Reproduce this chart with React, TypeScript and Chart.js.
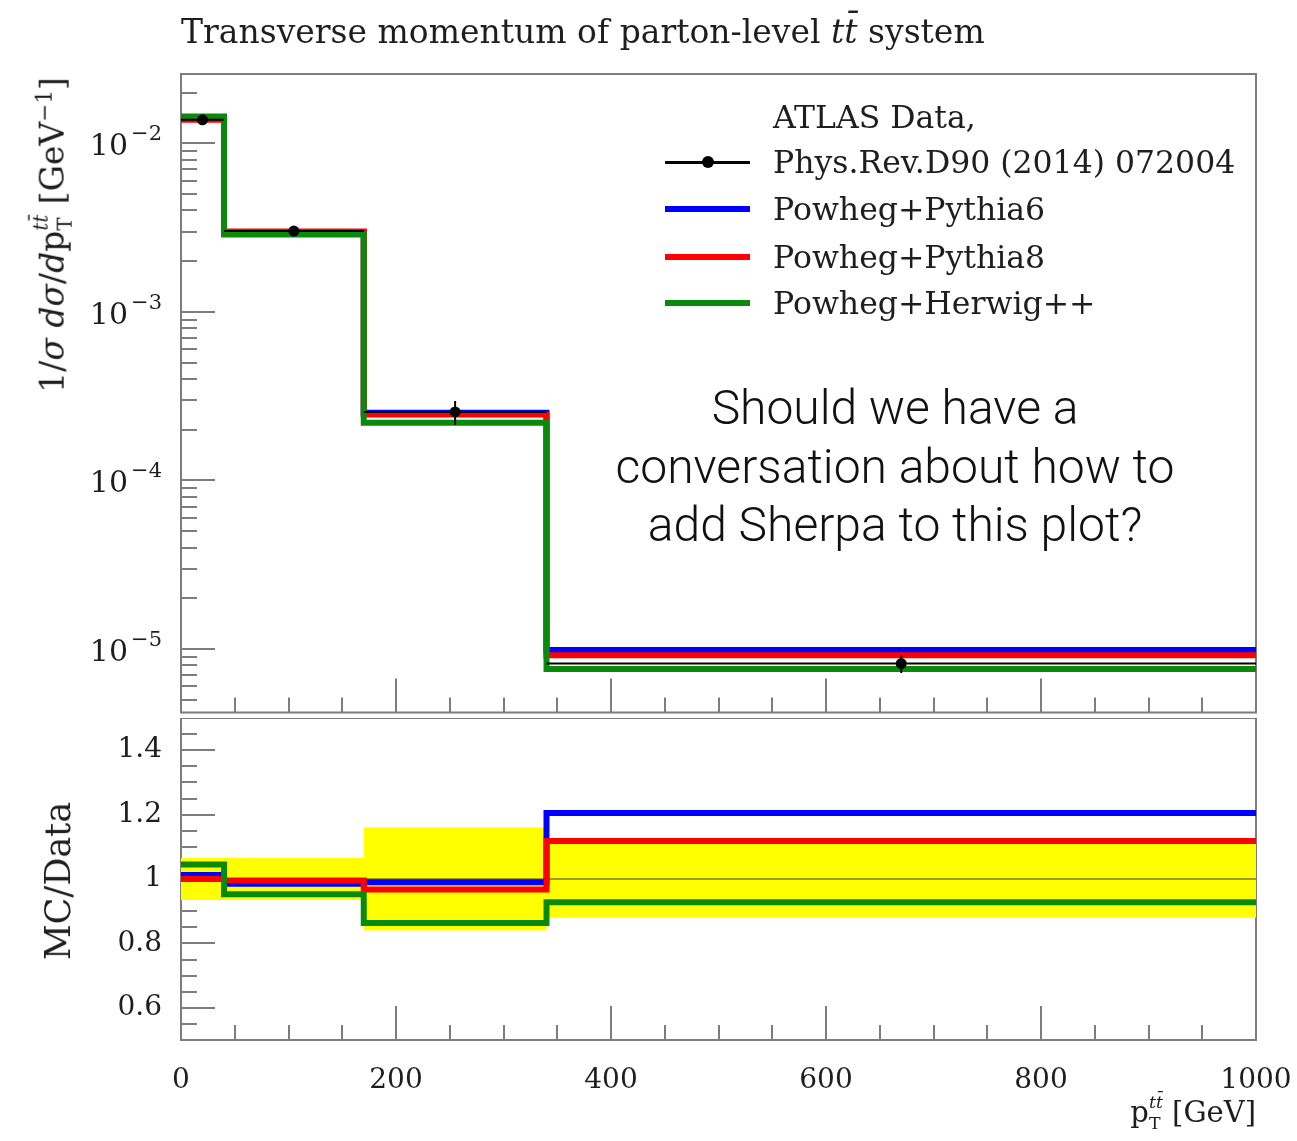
import React, { useEffect, useRef } from "react";
import { Chart, registerables } from "chart.js";

Chart.register(...registerables);

// Histogram binning in pT(ttbar) [GeV]
const binEdges = [0, 40, 170, 340, 1000];
const binCentres = [20, 105, 255, 670];

// Normalised cross-section 1/sigma dsigma/dpT [GeV^-1]
const dataValues = [0.0138, 0.00302, 2.55e-4, 8.2e-6];
const dataRelErr = [0.065, 0.065, 0.16, 0.12];
const pythia6Values = [0.01397, 0.002975, 2.525e-4, 9.88e-6];
const pythia8Values = [0.0138, 0.003005, 2.466e-4, 9.17e-6];
const herwigValues = [0.01442, 0.002878, 2.201e-4, 7.61e-6];

const seriesNames = ["Powheg+Pythia6", "Powheg+Pythia8", "Powheg+Herwig++"];
const seriesColors = ["#0000ff", "#ff0000", "#0a8a0a"];
const seriesValues = [pythia6Values, pythia8Values, herwigValues];
const seriesOrder = [4, 3, 2];

const dataLegend = ["ATLAS Data,", "Phys.Rev.D90 (2014) 072004"];
const logTickExponents = [-2, -3, -4, -5];
const ratioTickLabels = [0.6, 0.8, 1, 1.2, 1.4];
const xTickLabels = [0, 200, 400, 600, 800, 1000];

const SERIF = '"DejaVu Serif", serif';
const TEXT = "#1e1e1e";
const FRAME = "#7d7d7d";

type Pt = { x: number; y: number | null };

// Histogram outline: one point per lower bin edge plus a closing point
const stepPoints = (vals: number[]): Pt[] => [
  ...vals.map((v, i) => ({ x: binEdges[i], y: v })),
  { x: binEdges[binEdges.length - 1], y: vals[vals.length - 1] },
];

const ratioOf = (vals: number[]) => vals.map((v, i) => v / dataValues[i]);

// Horizontal (bin-width) and vertical (uncertainty) error bars of the data
const xErrPoints = (): Pt[] =>
  dataValues.flatMap((d, i) => [
    { x: binEdges[i], y: d },
    { x: binEdges[i + 1], y: d },
    { x: binEdges[i + 1], y: null },
  ]);
const yErrPoints = (): Pt[] =>
  dataValues.flatMap((d, i) => [
    { x: binCentres[i], y: d * (1 - dataRelErr[i]) },
    { x: binCentres[i], y: d * (1 + dataRelErr[i]) },
    { x: binCentres[i], y: null },
  ]);

const histLine = (label: string, color: string, data: Pt[], order: number) => ({
  type: "line" as const,
  label,
  data,
  stepped: "before" as const,
  borderColor: color,
  borderWidth: 6,
  borderJoinStyle: "miter" as const,
  pointRadius: 0,
  fill: false,
  order,
});

// Keep the plot area fixed: no extra room reserved for overhanging labels
const noLabelPadding = (s: any) => {
  s.paddingTop = 0;
  s.paddingBottom = 0;
  s.paddingLeft = 0;
  s.paddingRight = 0;
};

// Inward tick marks and the panel frame, Rivet style
const framePlugin = (panel: "main" | "ratio") => ({
  id: "frameTicks_" + panel,
  beforeDatasetsDraw(chart: any) {
    const { ctx, chartArea: a, scales } = chart;
    const xs = scales.x;
    const ys = scales.y;
    ctx.save();
    ctx.strokeStyle = FRAME;
    ctx.lineWidth = 2;
    const seg = (x0: number, y0: number, x1: number, y1: number) => {
      ctx.beginPath();
      ctx.moveTo(x0, y0);
      ctx.lineTo(x1, y1);
      ctx.stroke();
    };
    for (let v = 50; v < 1000; v += 50) {
      const x = Math.round(xs.getPixelForValue(v));
      seg(x, a.bottom, x, a.bottom - (v % 200 === 0 ? 34 : 15));
    }
    if (panel === "main") {
      for (let e = -6; e <= -1; e++) {
        for (let m = 1; m <= 9; m++) {
          const v = m * Math.pow(10, e);
          if (v < ys.min || v > ys.max) continue;
          const y = Math.round(ys.getPixelForValue(v));
          seg(a.left, y, a.left + (m === 1 ? 34 : 16), y);
        }
      }
    } else {
      for (let k = 11; k <= 29; k++) {
        const v = k * 0.05;
        const y = Math.round(ys.getPixelForValue(v));
        seg(a.left, y, a.left + (k % 4 === 0 ? 34 : 16), y);
      }
    }
    ctx.strokeRect(a.left, a.top, a.right - a.left, a.bottom - a.top);
    ctx.restore();
  },
  afterDraw(chart: any) {
    if (panel !== "main") return;
    const { ctx, scales } = chart;
    const ys = scales.y;
    ctx.save();
    ctx.fillStyle = TEXT;
    ctx.textBaseline = "alphabetic";
    ctx.textAlign = "left";
    const right = 162;
    for (const e of logTickExponents) {
      const y = ys.getPixelForValue(Math.pow(10, e));
      const sup = "\u2212" + Math.abs(e);
      ctx.font = `21px ${SERIF}`;
      const ws = ctx.measureText(sup).width;
      ctx.fillText(sup, right - ws, y - 3);
      ctx.font = `30px ${SERIF}`;
      const wb = ctx.measureText("10").width;
      ctx.fillText("10", right - ws - 3 - wb, y + 12);
    }
    ctx.restore();
  },
});

const PtT = () => (
  <span>
    p
    <span
      style={{
        display: "inline-block",
        fontSize: "0.6em",
        lineHeight: 1.2,
        verticalAlign: "-0.4em",
        textAlign: "left",
      }}
    >
      <i>tt&#772;</i>
      <br />T
    </span>
  </span>
);

export default function App() {
  const mainRef = useRef<HTMLCanvasElement>(null);
  const ratioRef = useRef<HTMLCanvasElement>(null);

  useEffect(() => {
    const main = new Chart(mainRef.current!, {
      type: "line",
      data: {
        datasets: [
          {
            type: "line",
            label: "data",
            data: binCentres.map((x, i) => ({ x, y: dataValues[i] })),
            showLine: false,
            pointRadius: 5.5,
            pointBackgroundColor: "#000",
            pointBorderWidth: 0,
            order: 0,
          },
          {
            type: "line",
            label: "data x-err",
            data: xErrPoints(),
            borderColor: "#000",
            borderWidth: 2,
            pointRadius: 0,
            spanGaps: false,
            order: 1,
          },
          {
            type: "line",
            label: "data y-err",
            data: yErrPoints(),
            borderColor: "#000",
            borderWidth: 2,
            pointRadius: 0,
            spanGaps: false,
            order: 1,
          },
          ...seriesNames.map((n, i) =>
            histLine(n, seriesColors[i], stepPoints(seriesValues[i]), seriesOrder[i])
          ),
        ] as any,
      },
      options: {
        responsive: false,
        animation: false,
        layout: { padding: { left: 181, right: 41, top: 74, bottom: 0 } },
        plugins: { legend: { display: false }, tooltip: { enabled: false } },
        scales: {
          x: { type: "linear", min: 0, max: 1000, display: false },
          y: { type: "logarithmic", min: 4.2e-6, max: 0.0258, display: false },
        },
      },
      plugins: [framePlugin("main")],
    });

    const band = (sign: number) => stepPoints(dataRelErr.map((e) => 1 + sign * e));

    const ratio = new Chart(ratioRef.current!, {
      type: "line",
      data: {
        datasets: [
          {
            type: "line",
            label: "uncertainty up",
            data: band(1),
            stepped: "before",
            borderWidth: 0,
            pointRadius: 0,
            backgroundColor: "#ffff00",
            fill: "+1",
            order: 10,
          },
          {
            type: "line",
            label: "uncertainty down",
            data: band(-1),
            stepped: "before",
            borderWidth: 0,
            pointRadius: 0,
            fill: false,
            order: 11,
          },
          {
            type: "line",
            label: "data / data",
            data: stepPoints(ratioOf(dataValues)),
            stepped: "before",
            borderColor: "rgba(60,55,0,0.5)",
            borderWidth: 2,
            pointRadius: 0,
            fill: false,
            order: 5,
          },
          ...seriesNames.map((n, i) =>
            histLine(n, seriesColors[i], stepPoints(ratioOf(seriesValues[i])), seriesOrder[i])
          ),
        ] as any,
      },
      options: {
        responsive: false,
        animation: false,
        layout: { padding: { left: 0, right: 41, top: 0, bottom: 0 } },
        plugins: { legend: { display: false }, tooltip: { enabled: false } },
        scales: {
          x: {
            type: "linear",
            min: 0,
            max: 1000,
            grid: { display: false, drawTicks: false },
            border: { display: false },
            ticks: {
              font: { family: SERIF, size: 28 },
              color: TEXT,
              padding: 24,
              maxRotation: 0,
              autoSkip: false,
              callback: (v: any) => String(v),
            },
            afterBuildTicks: (s: any) => {
              s.ticks = xTickLabels.map((value) => ({ value }));
            },
            afterFit: (s: any) => {
              s.height = 101;
              noLabelPadding(s);
            },
          },
          y: {
            type: "linear",
            min: 0.5,
            max: 1.5,
            grid: { display: false, drawTicks: false },
            border: { display: false },
            ticks: {
              font: { family: SERIF, size: 28 },
              color: TEXT,
              padding: 19,
              callback: (v: any) => String(v),
            },
            afterBuildTicks: (s: any) => {
              s.ticks = ratioTickLabels.map((value) => ({ value }));
            },
            afterFit: (s: any) => {
              s.width = 181;
              noLabelPadding(s);
            },
          },
        },
      },
      plugins: [framePlugin("ratio")],
    });

    return () => {
      main.destroy();
      ratio.destroy();
    };
  }, []);

  const legendRowY = [117, 162, 209, 257, 303];
  const legendText = {
    position: "absolute" as const,
    left: 773,
    fontSize: 31.5,
    lineHeight: "40px",
    whiteSpace: "nowrap" as const,
  };

  return (
    <div
      style={{
        position: "absolute",
        left: 0,
        top: 0,
        width: 1297,
        height: 1141,
        background: "#fff",
        overflow: "hidden",
        fontFamily: SERIF,
        color: TEXT,
      }}
    >
      <canvas
        ref={mainRef}
        width={1297}
        height={718}
        style={{ position: "absolute", left: 0, top: 0 }}
      />
      <canvas
        ref={ratioRef}
        width={1297}
        height={423}
        style={{ position: "absolute", left: 0, top: 718 }}
      />

      {/* plot title */}
      <div
        style={{
          position: "absolute",
          left: 181,
          top: 12,
          fontSize: 33,
          lineHeight: "40px",
          whiteSpace: "nowrap",
        }}
      >
        Transverse momentum of parton-level <i>tt&#772;</i> system
      </div>

      {/* y-axis titles */}
      <div
        style={{
          position: "absolute",
          left: 50,
          top: 235,
          transform: "translate(-50%, -50%) rotate(-90deg)",
          fontSize: 33,
          whiteSpace: "nowrap",
          lineHeight: "44px",
        }}
      >
        1/<i>σ</i> <i>dσ</i>/<i>d</i>
        <PtT /> [GeV<sup style={{ fontSize: "0.65em" }}>−1</sup>]
      </div>
      <div
        style={{
          position: "absolute",
          left: 58,
          top: 881,
          transform: "translate(-50%, -50%) rotate(-90deg)",
          fontSize: 35,
          whiteSpace: "nowrap",
          lineHeight: "44px",
        }}
      >
        MC/Data
      </div>

      {/* x-axis title */}
      <div
        style={{
          position: "absolute",
          right: 1297 - 1256,
          top: 1092,
          fontSize: 29,
          whiteSpace: "nowrap",
          lineHeight: "40px",
        }}
      >
        <PtT /> [GeV]
      </div>

      {/* legend */}
      <div style={{ ...legendText, top: legendRowY[0] - 20 }}>{dataLegend[0]}</div>
      <div style={{ ...legendText, top: legendRowY[1] - 20 }}>{dataLegend[1]}</div>
      <div
        style={{
          position: "absolute",
          left: 665,
          top: legendRowY[1] - 1.5,
          width: 85,
          height: 3,
          background: "#000",
        }}
      />
      <div
        style={{
          position: "absolute",
          left: 702,
          top: legendRowY[1] - 6,
          width: 12,
          height: 12,
          borderRadius: 6,
          background: "#000",
        }}
      />
      {seriesNames.map((n, i) => (
        <React.Fragment key={n}>
          <div
            style={{
              position: "absolute",
              left: 665,
              top: legendRowY[i + 2] - 3,
              width: 85,
              height: 6,
              background: seriesColors[i],
            }}
          />
          <div style={{ ...legendText, top: legendRowY[i + 2] - 20 }}>{n}</div>
        </React.Fragment>
      ))}

      {/* note on the plot */}
      <div
        style={{
          position: "absolute",
          left: 895,
          top: 379,
          transform: "translateX(-50%)",
          fontFamily: "Roboto, sans-serif",
          fontWeight: 300,
          fontSize: 48,
          lineHeight: "58.5px",
          textAlign: "center",
          whiteSpace: "nowrap",
          color: "#111",
        }}
      >
        Should we have a<br />
        conversation about how to
        <br />
        add Sherpa to this plot?
      </div>
    </div>
  );
}
